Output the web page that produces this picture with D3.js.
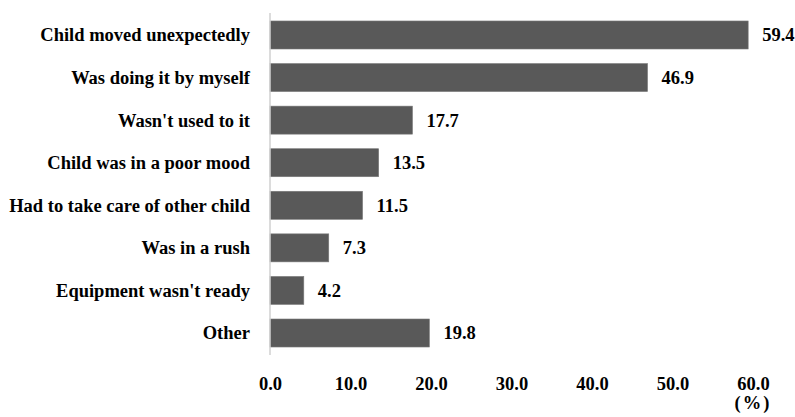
<!DOCTYPE html>
<html>
<head>
<meta charset="utf-8">
<script src="https://cdn.jsdelivr.net/npm/d3@7"></script>
<style>
  body { margin: 0; background: #fff; }
  text { font-family: "Liberation Serif", "Times New Roman", serif; font-weight: bold; fill: #000; }
</style>
</head>
<body>
<svg id="chart" width="795" height="417"></svg>
<script>
// Reasons reported, in display order (top to bottom)
const categories = [
  "Child moved unexpectedly",
  "Was doing it by myself",
  "Wasn't used to it",
  "Child was in a poor mood",
  "Had to take care of other child",
  "Was in a rush",
  "Equipment wasn't ready",
  "Other"
];
const values = [59.4, 46.9, 17.7, 13.5, 11.5, 7.3, 4.2, 19.8];
const tickValues = [0, 10, 20, 30, 40, 50, 60];

const svg = d3.select("#chart");
const x0 = 270, x1 = 753;
const fontSize = 18.5;

const x = d3.scaleLinear().domain([0, 60]).range([x0, x1]);
const y = d3.scaleBand().domain(categories).range([13.7, 354.3]).paddingInner(0.342).paddingOuter(0.171);

// bars
svg.append("g").selectAll("rect")
  .data(values)
  .join("rect")
  .attr("x", x(0))
  .attr("y", (d, i) => y(categories[i]))
  .attr("width", d => x(d) - x(0))
  .attr("height", y.bandwidth())
  .attr("fill", "#595959")
  .attr("stroke", "#7a7a7a")
  .attr("stroke-width", 0.6);

// vertical category axis line
svg.append("line")
  .attr("x1", x0).attr("x2", x0)
  .attr("y1", 13).attr("y2", 355)
  .attr("stroke", "#d0d0d0").attr("stroke-width", 1.5);

// category labels
svg.append("g").selectAll("text")
  .data(categories)
  .join("text")
  .attr("x", 250)
  .attr("y", d => y(d) + y.bandwidth() / 2)
  .attr("dy", "0.35em")
  .attr("text-anchor", "end")
  .attr("font-size", fontSize)
  .text(d => d);

// value labels
svg.append("g").selectAll("text")
  .data(values)
  .join("text")
  .attr("x", d => x(d) + 14)
  .attr("y", (d, i) => y(categories[i]) + y.bandwidth() / 2)
  .attr("dy", "0.35em")
  .attr("font-size", fontSize)
  .text(d => d.toFixed(1));

// x axis tick labels
const xAxis = d3.axisBottom(x).tickValues(tickValues).tickFormat(d => d.toFixed(1)).tickSize(0).tickPadding(0);
const gx = svg.append("g").attr("transform", "translate(0,377)").call(xAxis);
gx.select(".domain").remove();
gx.selectAll("text").attr("font-size", fontSize).attr("fill", "#000")
  .style("font-family", '"Liberation Serif", serif').style("font-weight", "bold");

// unit label
svg.append("text")
  .attr("x", x(60))
  .attr("y", 409)
  .attr("text-anchor", "middle")
  .attr("font-size", fontSize)
  .attr("letter-spacing", 2)
  .text("(%)");
</script>
</body>
</html>
